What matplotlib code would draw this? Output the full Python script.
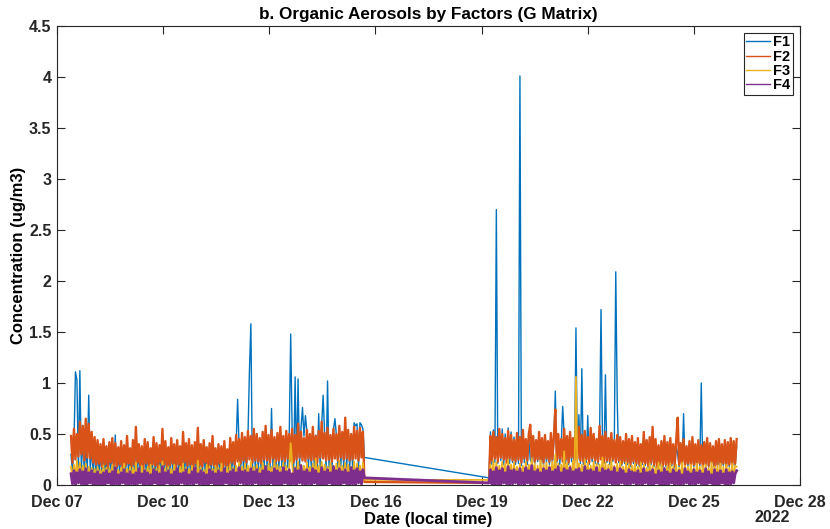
import pandas as pd
import matplotlib.pyplot as plt
import matplotlib.dates as mdates

# PMF factor time series (G matrix), hourly, in units of 0.01 ug/m3
# first run starts Dec 07 09:30, second run starts Dec 19 05:00
run1_start = "2022-12-07 09:30"
run2_start = "2022-12-19 05:00"

f1_run1 = [
    30, 12, 40, 111, 103, 14, 112, 15, 45, 12, 40, 13, 88, 14, 38, 11, 35, 10, 33, 12,
    30, 10, 34, 11, 28, 9, 32, 12, 35, 10, 49, 11, 29, 12, 33, 9, 30, 11, 36, 12,
    28, 10, 33, 11, 42, 12, 31, 10, 29, 9, 35, 12, 32, 10, 28, 11, 36, 10, 31, 9,
    30, 12, 41, 11, 33, 10, 29, 11, 35, 12, 31, 9, 34, 11, 29, 10, 40, 12, 31, 10,
    35, 11, 30, 9, 33, 12, 43, 10, 31, 10, 34, 12, 29, 9, 32, 11, 37, 10, 28, 10,
    31, 12, 30, 10, 34, 11, 27, 10, 37, 13, 35, 12, 40, 84, 38, 13, 44, 15, 40, 14,
    46, 111, 158, 16, 50, 15, 47, 14, 42, 13, 48, 16, 55, 15, 45, 14, 75, 16, 43, 15,
    47, 16, 54, 17, 45, 15, 50, 17, 47, 148, 52, 14, 106, 16, 104, 19, 56, 76, 48, 68,
    52, 17, 47, 16, 55, 18, 49, 15, 70, 17, 58, 88, 50, 16, 102, 17, 48, 15, 54, 65,
    49, 17, 55, 18, 50, 16, 60, 17, 52, 15, 48, 16, 61, 58, 60, 16, 61, 59, 55, 27,
]
f2_run1 = [
    48, 22, 55, 25, 50, 28, 62, 30, 58, 24, 65, 27, 60, 26, 52, 22, 47, 20, 44, 21,
    40, 18, 45, 20, 38, 17, 42, 22, 46, 19, 41, 18, 37, 20, 43, 17, 39, 19, 48, 21,
    36, 18, 44, 20, 57, 22, 40, 19, 38, 16, 45, 21, 42, 18, 36, 20, 47, 19, 41, 17,
    39, 22, 55, 20, 43, 18, 37, 19, 46, 21, 40, 17, 44, 20, 38, 18, 52, 22, 41, 19,
    45, 20, 39, 17, 42, 21, 56, 19, 40, 18, 44, 22, 37, 16, 41, 20, 48, 19, 36, 18,
    40, 21, 38, 17, 43, 19, 35, 18, 46, 22, 42, 20, 49, 23, 45, 21, 51, 24, 47, 22,
    53, 25, 48, 22, 55, 24, 50, 23, 46, 21, 52, 25, 58, 24, 49, 22, 54, 26, 47, 23,
    51, 24, 57, 25, 48, 23, 53, 26, 50, 24, 55, 22, 49, 25, 60, 27, 52, 24, 46, 23,
    54, 26, 50, 24, 57, 25, 48, 22, 53, 27, 62, 26, 51, 24, 56, 25, 49, 23, 55, 26,
    50, 24, 58, 27, 52, 25, 66, 26, 54, 24, 50, 25, 57, 26, 53, 24, 56, 27, 52, 3,
]
f3_run1 = [
    18, 5, 20, 6, 24, 7, 22, 5, 19, 6, 21, 4, 18, 5, 17, 6, 16, 4, 18, 5,
    15, 6, 19, 4, 17, 5, 16, 7, 20, 5, 18, 4, 15, 6, 17, 5, 21, 4, 16, 6,
    18, 5, 17, 4, 22, 6, 16, 5, 19, 4, 15, 6, 18, 5, 20, 4, 17, 6, 16, 5,
    19, 4, 23, 6, 17, 5, 18, 4, 16, 6, 20, 5, 15, 4, 18, 6, 21, 5, 17, 4,
    16, 6, 19, 5, 18, 4, 24, 6, 17, 5, 15, 4, 20, 6, 18, 5, 16, 4, 19, 6,
    17, 5, 21, 4, 16, 6, 18, 5, 20, 4, 17, 6, 19, 5, 22, 4, 18, 6, 21, 5,
    19, 4, 23, 6, 18, 5, 20, 4, 17, 6, 22, 5, 19, 4, 21, 6, 18, 5, 24, 4,
    20, 6, 18, 5, 22, 4, 19, 6, 17, 41, 21, 4, 18, 6, 23, 5, 20, 4, 19, 6,
    22, 5, 18, 4, 21, 6, 26, 5, 19, 4, 23, 6, 20, 5, 18, 4, 22, 6, 19, 5,
    21, 4, 24, 6, 19, 5, 22, 4, 20, 6, 18, 5, 23, 4, 21, 6, 19, 5, 22, 5,
]
f4_run1 = [
    11, 1, 14, 0, 12, 2, 15, 1, 13, 0, 16, 1, 12, 2, 14, 0, 11, 1, 13, 0,
    10, 1, 12, 0, 14, 2, 11, 1, 13, 0, 17, 1, 10, 0, 12, 2, 15, 1, 11, 0,
    13, 1, 10, 0, 12, 1, 16, 2, 11, 0, 14, 1, 12, 0, 10, 1, 15, 2, 13, 0,
    11, 1, 18, 0, 12, 2, 14, 1, 10, 0, 13, 1, 16, 0, 11, 2, 12, 1, 15, 0,
    10, 1, 13, 0, 17, 2, 11, 1, 14, 0, 12, 1, 10, 0, 15, 2, 13, 1, 11, 0,
    14, 1, 12, 0, 16, 2, 11, 1, 13, 0, 15, 1, 12, 0, 17, 2, 13, 1, 14, 0,
    12, 1, 16, 0, 13, 2, 15, 1, 11, 0, 14, 1, 18, 0, 13, 2, 12, 1, 16, 0,
    14, 1, 12, 0, 17, 2, 13, 1, 15, 0, 11, 1, 16, 0, 14, 2, 19, 1, 13, 0,
    15, 1, 12, 0, 16, 2, 14, 1, 11, 0, 17, 1, 13, 0, 15, 2, 12, 1, 18, 0,
    14, 1, 16, 0, 13, 2, 15, 1, 12, 0, 17, 1, 14, 0, 16, 2, 13, 1, 15, 7,
]

f1_run2 = [
    7, 52, 20, 54, 22, 270, 21, 53, 24, 55, 20, 50, 23, 56, 21, 52, 22, 47, 20, 49,
    21, 401, 19, 48, 22, 44, 20, 46, 25, 22, 42, 21, 40, 23, 47, 20, 41, 19, 45, 22,
    38, 20, 46, 21, 42, 92, 22, 44, 20, 40, 77, 48, 21, 43, 20, 47, 23, 41, 21, 154,
    22, 69, 21, 114, 20, 48, 22, 68, 20, 50, 23, 44, 21, 40, 20, 47, 172, 43, 21, 108,
    22, 41, 20, 46, 23, 39, 209, 82, 22, 42, 19, 38, 21, 45, 20, 40, 18, 43, 21, 37,
    19, 41, 18, 36, 20, 44, 19, 38, 17, 40, 20, 35, 18, 39, 16, 34, 19, 38, 17, 42,
    18, 37, 16, 40, 19, 35, 17, 38, 30, 18, 36, 20, 70, 17, 33, 19, 37, 16, 40, 18,
    35, 17, 39, 19, 100, 16, 37, 18, 40, 17, 36, 20, 33, 16, 38, 18, 39, 17, 35, 19,
    38, 16, 37, 18, 40, 17, 36, 19, 38,
]
f2_run2 = [
    2, 48, 24, 52, 26, 47, 23, 55, 27, 50, 25, 46, 22, 53, 26, 49, 24, 44, 23, 51,
    25, 47, 22, 54, 26, 45, 24, 50, 59, 27, 48, 23, 44, 25, 52, 24, 46, 22, 49, 26,
    43, 23, 51, 25, 47, 74, 24, 50, 26, 45, 23, 55, 25, 48, 22, 52, 27, 46, 24, 50,
    26, 57, 24, 49, 23, 53, 25, 47, 22, 56, 26, 50, 24, 45, 23, 58, 25, 48, 22, 52,
    24, 46, 23, 51, 25, 44, 22, 49, 24, 47, 21, 43, 23, 50, 22, 45, 20, 48, 23, 42,
    21, 46, 20, 40, 22, 52, 21, 44, 19, 47, 22, 57, 20, 45, 18, 39, 21, 43, 19, 48,
    20, 42, 18, 46, 21, 40, 19, 44, 66, 20, 41, 22, 45, 19, 38, 21, 43, 18, 47, 20,
    40, 19, 44, 21, 39, 18, 42, 20, 46, 19, 41, 22, 38, 18, 43, 20, 45, 19, 40, 21,
    44, 18, 42, 20, 46, 19, 43, 21, 45,
]
f3_run2 = [
    5, 20, 6, 24, 5, 22, 7, 19, 5, 23, 6, 21, 4, 25, 6, 20, 5, 22, 7, 18,
    5, 21, 6, 19, 4, 23, 6, 20, 5, 26, 7, 21, 5, 19, 6, 24, 4, 20, 6, 22,
    5, 19, 7, 23, 5, 30, 6, 21, 4, 20, 6, 33, 5, 22, 7, 19, 5, 24, 6, 106,
    5, 21, 7, 20, 4, 25, 6, 22, 5, 19, 6, 23, 4, 21, 7, 20, 5, 27, 6, 22,
    4, 20, 6, 24, 5, 19, 7, 21, 5, 23, 6, 18, 4, 22, 6, 20, 5, 19, 7, 21,
    5, 18, 6, 22, 4, 20, 5, 17, 6, 21, 4, 19, 6, 18, 5, 22, 4, 20, 6, 17,
    5, 19, 4, 21, 6, 18, 5, 20, 4, 17, 6, 22, 5, 19, 4, 18, 6, 20, 5, 17,
    4, 21, 6, 18, 5, 19, 4, 20, 6, 17, 5, 22, 4, 18, 6, 19, 5, 21, 4, 18,
    6, 20, 5, 17, 4, 21, 6, 19, 18,
]
f4_run2 = [
    2, 15, 1, 13, 0, 17, 1, 14, 0, 16, 2, 12, 1, 18, 0, 14, 1, 15, 2, 13,
    0, 16, 1, 12, 0, 17, 2, 14, 1, 19, 0, 13, 1, 15, 2, 12, 0, 16, 1, 14,
    0, 17, 2, 13, 1, 15, 0, 18, 1, 12, 2, 16, 0, 14, 1, 17, 0, 13, 2, 15,
    1, 16, 0, 12, 1, 18, 2, 14, 0, 15, 1, 13, 0, 17, 2, 12, 1, 16, 0, 14,
    1, 15, 2, 13, 0, 17, 1, 12, 0, 16, 2, 14, 1, 11, 0, 15, 1, 13, 2, 12,
    0, 14, 1, 11, 0, 16, 2, 12, 1, 13, 0, 15, 1, 10, 2, 14, 0, 12, 1, 16,
    0, 13, 1, 11, 2, 15, 0, 12, 1, 14, 0, 10, 1, 16, 2, 13, 0, 11, 1, 15,
    0, 12, 2, 14, 1, 11, 0, 16, 1, 13, 2, 10, 0, 15, 1, 12, 0, 14, 2, 11,
    1, 15, 0, 12, 1, 13, 2, 11, 14,
]

factors = ["F1", "F2", "F3", "F4"]
colors = ["#0072BD", "#D95319", "#EDB120", "#7E2F8E"]
widths = [1.0, 1.7, 1.3, 2.0]
run1 = [f1_run1, f2_run1, f3_run1, f4_run1]
run2 = [f1_run2, f2_run2, f3_run2, f4_run2]

plt.rcParams["font.family"] = ["Liberation Sans", "DejaVu Sans"]
plt.rcParams["font.weight"] = "bold"
plt.rcParams["axes.labelweight"] = "bold"
plt.rcParams["axes.titleweight"] = "bold"

fig = plt.figure(figsize=(8.3, 5.29), dpi=100)
ax = fig.add_axes([0.0687, 0.0832, 0.8952, 0.8677])

for name, col, lw, a, b in zip(factors, colors, widths, run1, run2):
    t = pd.date_range(run1_start, periods=len(a), freq="h").append(
        pd.date_range(run2_start, periods=len(b), freq="h"))
    s = pd.Series(a + b, index=t) / 100.0
    ax.plot(s.index, s.values, color=col, lw=lw, label=name)

ax.set_xlim(pd.Timestamp("2022-12-07"), pd.Timestamp("2022-12-28"))
ax.set_ylim(0, 4.5)
ax.xaxis.set_major_locator(mdates.DayLocator(bymonthday=[7, 10, 13, 16, 19, 22, 25, 28]))
ax.xaxis.set_major_formatter(mdates.DateFormatter("%b %d"))
ax.set_yticks([0, 0.5, 1, 1.5, 2, 2.5, 3, 3.5, 4, 4.5])
ax.set_yticklabels(["0", "0.5", "1", "1.5", "2", "2.5", "3", "3.5", "4", "4.5"])

ax.tick_params(direction="in", top=True, right=True, length=6, width=0.8,
               labelsize=11.5, colors="#262626", pad=4)
ax.tick_params(axis="x", pad=7)
for sp in ax.spines.values():
    sp.set_color("#262626")
    sp.set_linewidth(0.8)

ax.set_title("b. Organic Aerosols by Factors (G Matrix)", fontsize=12.3, pad=5)
ax.set_xlabel("Date (local time)", fontsize=12, labelpad=2)
ax.set_ylabel("Concentration (ug/m3)", fontsize=12, labelpad=2)
ax.text(0.987, -0.07, "2022", transform=ax.transAxes, ha="right", va="center",
        fontsize=11.5, color="#262626")

leg = ax.legend(loc="upper right", fontsize=10.5, handlelength=1.6,
                handletextpad=0.25, borderaxespad=0.5, labelspacing=0.02,
                borderpad=0.15, fancybox=False, edgecolor="#262626", framealpha=1)
leg.get_frame().set_linewidth(0.8)
for ln in leg.get_lines():
    ln.set_linewidth(1.0)

fig.savefig("out.png", dpi=100)
